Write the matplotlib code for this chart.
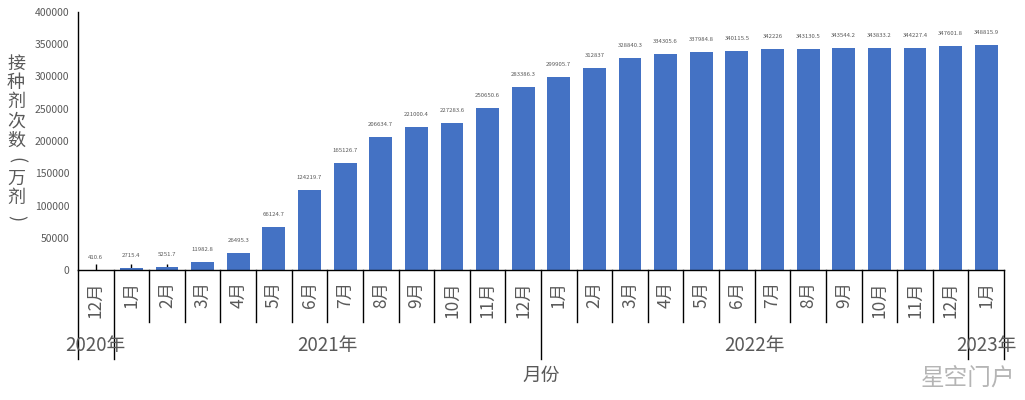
import matplotlib
matplotlib.use("Agg")
import matplotlib.pyplot as plt
import matplotlib.transforms as mtransforms
import numpy as np

plt.rcParams['font.family'] = ['Noto Sans CJK SC', 'DejaVu Sans']

months = ["12月", "1月", "2月", "3月", "4月", "5月", "6月", "7月", "8月", "9月", "10月", "11月", "12月",
          "1月", "2月", "3月", "4月", "5月", "6月", "7月", "8月", "9月", "10月", "11月", "12月", "1月"]
values = [410.6, 2715.4, 5251.7, 11982.8, 26495.3, 66124.7, 124219.7, 165126.7, 206634.7, 221000.4,
          227283.6, 250650.6, 283386.3, 299905.7, 312837, 328840.3, 334305.6, 337984.8, 340115.5,
          342226, 343130.5, 343544.2, 343833.2, 344227.4, 347601.8, 348815.9]
value_labels = ["410.6", "2715.4", "5251.7", "11982.8", "26495.3", "66124.7", "124219.7", "165126.7",
                "206634.7", "221000.4", "227283.6", "250650.6", "283386.3", "299905.7", "312837",
                "328840.3", "334305.6", "337984.8", "340115.5", "342226", "343130.5", "343544.2",
                "343833.2", "344227.4", "347601.8", "348815.9"]
years = ["2020年", "2021年", "2022年", "2023年"]
year_counts = [1, 12, 12, 1]
yticks = [0, 50000, 100000, 150000, 200000, 250000, 300000, 350000, 400000]
ylabel = "接种剂次数（万剂）"

bar_color = "#4472C4"
text_gray = "#595959"

fig = plt.figure(figsize=(10.25, 4.0), dpi=100)
ax = fig.add_axes([78/1025, 1-270/400, (1004-78)/1025, (270-12)/400])

x = np.arange(len(values))
ax.bar(x, values, width=0.64, color=bar_color, zorder=2)
ax.set_xlim(-0.5, len(values)-0.5)
ax.set_ylim(0, 400000)

for xi, v, lab in zip(x, values, value_labels):
    ax.annotate(lab, (xi, v), xytext=(0, 9), textcoords="offset points",
                ha="center", va="center", fontsize=4.3, color=text_gray)

ax.set_yticks(yticks)
ax.set_yticklabels([str(t) for t in yticks], fontsize=7.5, color=text_gray)
ax.tick_params(axis="y", length=0, pad=6)

ax.set_xticks(x)
ax.set_xticklabels(months, rotation=90, fontsize=12.5, color=text_gray)
ax.tick_params(axis="x", direction="in", length=4, width=1, color="black", pad=8)

for s in ["top", "right"]:
    ax.spines[s].set_visible(False)
ax.spines["left"].set_color("black")
ax.spines["bottom"].set_color("black")
ax.spines["left"].set_linewidth(1)
ax.spines["bottom"].set_linewidth(1)

trans = mtransforms.blended_transform_factory(ax.transData, ax.transAxes)
short_y = -52/258
long_y = -89/258
boundaries = np.cumsum([0] + year_counts) - 0.5
for b in np.arange(-0.5, len(values)):
    yb = long_y if np.any(np.isclose(boundaries, b)) else short_y
    ax.plot([b, b], [0, yb], color="black", lw=1, transform=trans, clip_on=False, zorder=3)

for i, yr in enumerate(years):
    c = (boundaries[i] + boundaries[i+1]) / 2
    ax.text(c, -76/258, yr, transform=trans, ha="center", va="center", fontsize=13.5, color=text_gray)

ax.text(0.5, -105/258, "月份", transform=ax.transAxes, ha="center", va="center", fontsize=13.5, color=text_gray)

# vertical stacked y-axis title (parentheses turned for vertical writing)
paren_map = {"（": "(", "）": ")"}
y0 = 64
step = 19.2
for k, ch in enumerate(ylabel):
    if ch in paren_map:
        fig.text(16/1025, 1-(y0 + k*step)/400, paren_map[ch], ha="center", va="center",
                 fontsize=13, color=text_gray, rotation=-90, rotation_mode="anchor")
    else:
        fig.text(16/1025, 1-(y0 + k*step)/400, ch, ha="center", va="center", fontsize=13,
                 color=text_gray)

fig.text(968/1025, 1-378/400, "星空门户", ha="center", va="center", fontsize=17, color="#b5b5b5")

fig.savefig("out.png", dpi=100)
